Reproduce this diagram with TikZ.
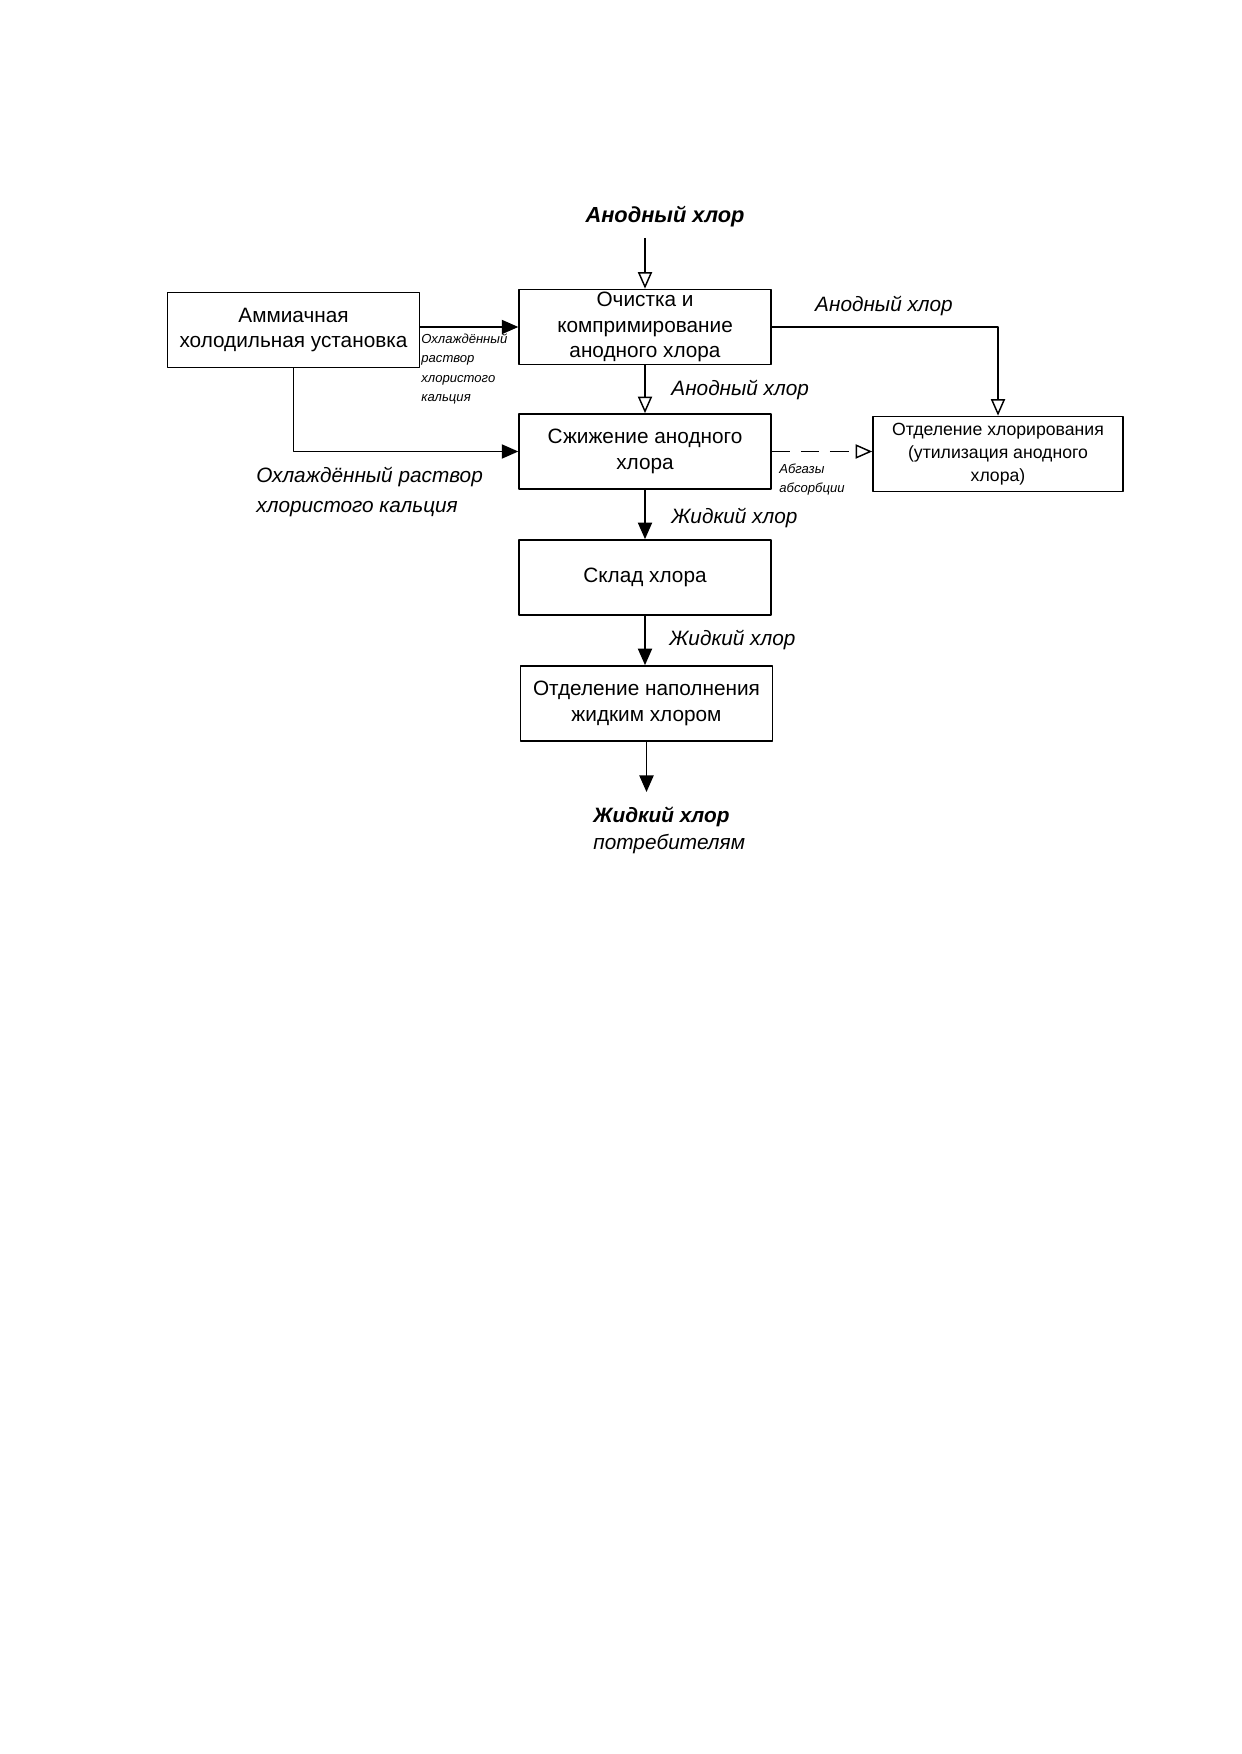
\documentclass[tikz,border=0pt]{standalone}
\usepackage{fontspec}
\setmainfont{Liberation Sans}
\usetikzlibrary{arrows.meta,positioning}

\tikzset{
  blok/.style={draw,line width=0.8pt,minimum width=42.6mm,minimum height=12.7mm,
    align=center,inner sep=1pt,font=\fontsize{10}{12.2}\selectfont},
  potok/.style={line width=0.7pt},
  pust/.style={-{Triangle[open,length=2.8mm,width=2.4mm]}},
  poln/.style={-{Triangle[length=2.8mm,width=2.4mm]}},
  nadp/.style={font=\fontsize{10}{12.5}\selectfont\itshape,inner sep=0pt},
  melk/.style={font=\fontsize{6.3}{9.2}\selectfont\itshape,inner sep=0pt,align=left}
}

\begin{document}
\begin{tikzpicture}[x=0.016922cm,y=-0.016922cm,line join=round]
\useasboundingbox (0,0) rectangle (1241,1754);
% bloki
\node[blok] (amm) at (293.5,330) {Аммиачная\\холодильная установка};
\node[blok] (och) at (645,327) {Очистка и\\компримирование\\анодного хлора};
\node[blok] (szh) at (645,451.5) {Сжижение анодного\\хлора};
\node[blok,font=\fontsize{8.5}{11}\selectfont,minimum width=42.3mm] (chl) at (998,454) {Отделение хлорирования\\(утилизация анодного\\хлора)};
\node[blok] (skl) at (645,577.5) {Склад хлора};
\node[blok] (otn) at (646.5,703.5) {Отделение наполнения\\жидким хлором};
\coordinate (vh) at (645,238);
\coordinate (vyh) at (646.5,792);
% nadpisi
\node[nadp,font=\fontsize{10.5}{12.5}\selectfont\bfseries\itshape] (t1) at (665,217) {Анодный хлор};
\node[nadp] (t2) at (884,306) {Анодный хлор};
\node[nadp,anchor=west] (t3) at (671,390) {Анодный хлор};
\node[nadp,anchor=west] (t4) at (671,518) {Жидкий хлор};
\node[nadp,anchor=west] (t5) at (669,640) {Жидкий хлор};
\node[melk,anchor=west] (t6) at (421,369) {Охлаждённый\\раствор\\хлористого\\кальция};
\node[melk,anchor=west] (t7) at (779,480) {Абгазы\\абсорбции};
\node[nadp,anchor=west,align=left,font=\fontsize{10}{14}\selectfont\itshape] (t8) at (256,492) {Охлаждённый раствор\\хлористого кальция};
\node[nadp,anchor=west,align=left,font=\fontsize{10}{13}\selectfont\itshape] (t9) at (593,830) {\textbf{Жидкий хлор}\\потребителям};
% potoki
\draw[potok,pust] (vh) -- (och.north);
\draw[potok,poln] (amm.east |- och.west) -- (och.west);
\draw[potok,pust] (och.east) -| (chl.north);
\draw[potok,pust] (och.south) -- (szh.north);
\draw[potok,poln] (amm.south) |- (szh.west);
\draw[potok,pust,dashed,dash pattern=on 9pt off 5pt] (szh.east) -- (szh.east -| chl.west);
\draw[potok,poln] (szh.south) -- (skl.north);
\draw[potok,poln] (skl.south) -- (otn.north -| skl.south);
\draw[potok,poln] (otn.south) -- (vyh);
\end{tikzpicture}
\end{document}
